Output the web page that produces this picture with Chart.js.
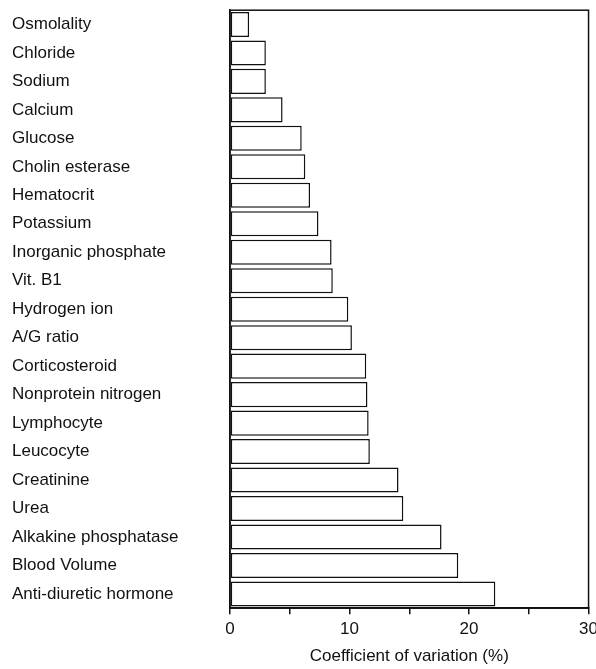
<!DOCTYPE html>
<html>
<head>
<meta charset="utf-8">
<script src="https://cdn.jsdelivr.net/npm/chart.js@4.4.0/dist/chart.umd.min.js"></script>
<style>
  html, body { margin: 0; padding: 0; background: #fff; overflow: hidden; }
  #wrap { width: 603px; height: 669px; }
</style>
</head>
<body>
<div id="wrap"><canvas id="cvChart"></canvas></div>
<script>
// ===================== data =====================
const categories = [
  'Osmolality', 'Chloride', 'Sodium', 'Calcium', 'Glucose', 'Cholin esterase',
  'Hematocrit', 'Potassium', 'Inorganic phosphate', 'Vit. B1', 'Hydrogen ion',
  'A/G ratio', 'Corticosteroid', 'Nonprotein nitrogen', 'Lymphocyte', 'Leucocyte',
  'Creatinine', 'Urea', 'Alkakine phosphatase', 'Blood Volume', 'Anti-diuretic hormone'
];
const cvValues = [
  1.6, 3.0, 3.0, 4.4, 6.0, 6.3,
  6.7, 7.4, 8.5, 8.6, 9.9,
  10.2, 11.4, 11.5, 11.6, 11.7,
  14.1, 14.5, 17.7, 19.1, 22.2
];
const xTicks = [0, 10, 20, 30];
const xTitle = 'Coefficient of variation (%)';

// frame around the plot area
const frameBox = {
  id: 'frameBox',
  afterDatasetsDraw(chart) {
    const { ctx, chartArea: a } = chart;
    ctx.save();
    ctx.strokeStyle = '#111';
    ctx.lineWidth = 1.5;
    ctx.strokeRect(a.left, a.top, a.right - a.left, a.bottom - a.top);
    ctx.restore();
  }
};

const fontFamily = '"Liberation Sans", Arial, Helvetica, sans-serif';

new Chart(document.getElementById('cvChart'), {
  type: 'bar',
  data: {
    labels: categories,
    datasets: [{
      data: cvValues,
      backgroundColor: '#ffffff',
      borderColor: '#111',
      borderWidth: 1.5,
      borderSkipped: false,
      barPercentage: 0.88,
      categoryPercentage: 1
    }]
  },
  options: {
    indexAxis: 'y',
    responsive: true,
    maintainAspectRatio: false,
    animation: false,
    layout: { padding: { left: 12, top: 10, bottom: 2, right: 0 } },
    plugins: {
      legend: { display: false },
      tooltip: { enabled: false }
    },
    scales: {
      x: {
        min: 0,
        max: 30,
        grid: { drawOnChartArea: false, drawTicks: true, tickLength: 6, color: '#111', lineWidth: 1.5 },
        border: { display: true, color: '#111', width: 1.5 },
        ticks: {
          stepSize: 5,
          color: '#111',
          padding: 5,
          maxRotation: 0,
          font: { family: fontFamily, size: 17 },
          callback: v => xTicks.includes(v) ? String(v) : ''
        },
        title: {
          display: true,
          text: xTitle,
          color: '#111',
          padding: { top: 2, bottom: 0 },
          font: { family: fontFamily, size: 17 }
        }
      },
      y: {
        grid: { display: false },
        border: { display: true, color: '#111', width: 1.5 },
        ticks: {
          color: '#111',
          crossAlign: 'far',
          padding: 0,
          font: { family: fontFamily, size: 17 }
        },
        afterFit(scale) { scale.width = 218; }
      }
    }
  },
  plugins: [frameBox]
});
</script>
</body>
</html>
